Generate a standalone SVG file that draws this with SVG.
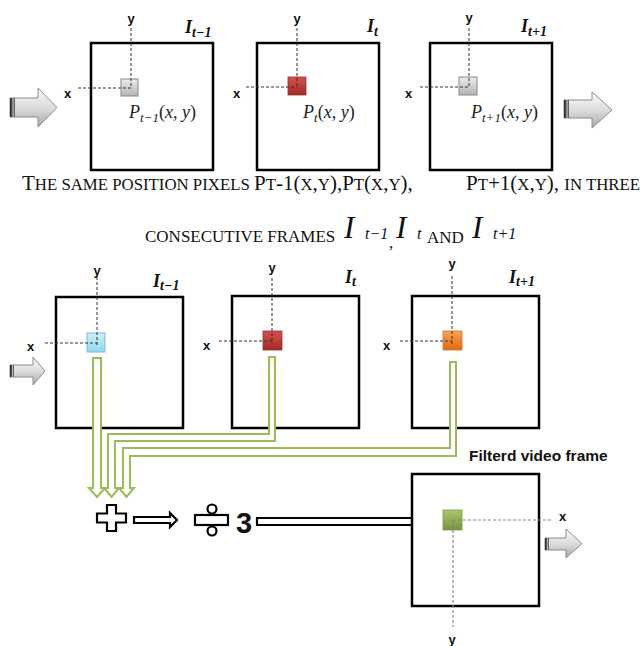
<svg xmlns="http://www.w3.org/2000/svg" width="643" height="646" viewBox="0 0 643 646">
  <defs>
    <linearGradient id="gArrow" x1="0" y1="0" x2="0" y2="1">
      <stop offset="0" stop-color="#fbfbfb"/>
      <stop offset="0.55" stop-color="#d9d9d9"/>
      <stop offset="1" stop-color="#a6a6a6"/>
    </linearGradient>
    <linearGradient id="gTail" x1="0" y1="0" x2="1" y2="0">
      <stop offset="0" stop-color="#222"/>
      <stop offset="0.4" stop-color="#555"/>
      <stop offset="0.6" stop-color="#bbb"/>
      <stop offset="1" stop-color="#444"/>
    </linearGradient>
    <linearGradient id="gGray" x1="0" y1="0" x2="0" y2="1">
      <stop offset="0" stop-color="#ececec"/>
      <stop offset="1" stop-color="#b4b4b4"/>
    </linearGradient>
    <linearGradient id="gRed" x1="0" y1="0" x2="0" y2="1">
      <stop offset="0" stop-color="#d6524e"/>
      <stop offset="1" stop-color="#a32a27"/>
    </linearGradient>
    <linearGradient id="gBlue" x1="0" y1="0" x2="0" y2="1">
      <stop offset="0" stop-color="#cdf0fb"/>
      <stop offset="1" stop-color="#93d6f1"/>
    </linearGradient>
    <linearGradient id="gOrange" x1="0" y1="0" x2="0" y2="1">
      <stop offset="0" stop-color="#f8a458"/>
      <stop offset="1" stop-color="#e0690c"/>
    </linearGradient>
    <linearGradient id="gGreen" x1="0" y1="0" x2="0" y2="1">
      <stop offset="0" stop-color="#a9c96b"/>
      <stop offset="1" stop-color="#76933b"/>
    </linearGradient>
  </defs>
  <style>
    .frame { fill: #fff; stroke: #000; stroke-width: 2.5; }
    .dash { fill: none; stroke: #333; stroke-width: 1; stroke-dasharray: 3 2; }
    .dashg { fill: none; stroke: #888; stroke-width: 1.2; stroke-dasharray: 3 2; }
    .axis { font-family: "Liberation Sans", Arial, sans-serif; font-weight: bold; font-size: 13px; fill: #111; }
    .flabel { font-family: "Liberation Serif", "Times New Roman", serif; font-weight: bold; font-style: italic; font-size: 18px; fill: #111; }
    .fsub { font-size: 14px; }
    .plabel { font-family: "Liberation Serif", "Times New Roman", serif; font-style: italic; font-size: 18px; fill: #222; }
    .psub { font-size: 13px; }
    .up { font-style: normal; }
    .cap { font-family: "Liberation Serif", "Times New Roman", serif; font-size: 21px; fill: #111; }
    .sc { font-size: 16.8px; }
    .sc2 { font-size: 17px; }
    .mi { font-family: "Liberation Serif", "Times New Roman", serif; font-style: italic; font-size: 31px; fill: #111; }
    .ms { font-family: "Liberation Serif", "Times New Roman", serif; font-style: italic; font-size: 16px; fill: #111; }
    .pipe { fill: #fff; stroke: #9bbb59; stroke-width: 2; stroke-linejoin: miter; }
    .op { fill: #fff; stroke: #000; stroke-width: 2.2; stroke-linejoin: miter; }
    .garrow { fill: url(#gArrow); stroke: #8c8c8c; stroke-width: 1; }
    .title { font-family: "Liberation Sans", Arial, sans-serif; font-weight: bold; font-size: 15.5px; fill: #111; }
  </style>

  <!-- top row: three consecutive frames -->
  <g id="top-input-arrow">
    <path class="garrow" d="M10,98 H38 V88 L57,107.5 L38,127 V117 H10 Z"/>
    <rect x="10" y="98" width="5" height="19" fill="url(#gTail)"/>
  </g>
  <g id="top-frame-prev">
    <rect class="frame" x="91" y="43" width="122" height="127"/>
    <rect x="121" y="79" width="17" height="17" fill="url(#gGray)" stroke="#8a8a8a" stroke-width="1"/>
    <path class="dash" d="M131,28 V88 M78,88 H131"/>
    <text class="axis" x="131" y="23" text-anchor="middle">y</text>
    <text class="axis" x="64" y="98">x</text>
    <text class="flabel" x="185" y="33">I<tspan class="fsub" dy="4">t−1</tspan></text>
    <text class="plabel" x="129" y="118">P<tspan class="psub" dy="4">t−1</tspan><tspan class="up" dy="-4">(</tspan>x<tspan class="up">, </tspan>y<tspan class="up">)</tspan></text>
  </g>
  <g id="top-frame-cur">
    <rect class="frame" x="257" y="43" width="122" height="127"/>
    <rect x="288" y="77" width="18" height="18" fill="url(#gRed)" stroke="#9a3030" stroke-width="0.8"/>
    <path class="dash" d="M297,28 V87 M246,87 H297"/>
    <text class="axis" x="297" y="23" text-anchor="middle">y</text>
    <text class="axis" x="233" y="98">x</text>
    <text class="flabel" x="367" y="32">I<tspan class="fsub" dy="4">t</tspan></text>
    <text class="plabel" x="303" y="118">P<tspan class="psub" dy="4">t</tspan><tspan class="up" dy="-4">(</tspan>x<tspan class="up">, </tspan>y<tspan class="up">)</tspan></text>
  </g>
  <g id="top-frame-next">
    <rect class="frame" x="430" y="43" width="122" height="127"/>
    <rect x="459" y="77" width="18" height="18" fill="url(#gGray)" stroke="#8a8a8a" stroke-width="1"/>
    <path class="dash" d="M469,28 V87 M420,87 H469"/>
    <text class="axis" x="469" y="22" text-anchor="middle">y</text>
    <text class="axis" x="405" y="98">x</text>
    <text class="flabel" x="521" y="32">I<tspan class="fsub" dy="4">t+1</tspan></text>
    <text class="plabel" x="471" y="118">P<tspan class="psub" dy="4">t+1</tspan><tspan class="up" dy="-4">(</tspan>x<tspan class="up">, </tspan>y<tspan class="up">)</tspan></text>
  </g>
  <g id="top-output-arrow">
    <path class="garrow" d="M564,100 H592 V92 L612,110 L592,128 V118 H564 Z"/>
    <rect x="564" y="100" width="5" height="18" fill="url(#gTail)"/>
  </g>

  <!-- caption -->
  <g id="caption">
    <text class="cap" x="22" y="190">T<tspan class="sc">HE SAME POSITION PIXELS </tspan>P<tspan class="sc">T</tspan>-1(<tspan class="sc">X</tspan>,<tspan class="sc">Y</tspan>),P<tspan class="sc">T</tspan>(<tspan class="sc">X</tspan>,<tspan class="sc">Y</tspan>),</text>
    <text class="cap" x="466" y="190">P<tspan class="sc">T</tspan>+1(<tspan class="sc">X</tspan>,<tspan class="sc">Y</tspan>), <tspan class="sc">IN THREE</tspan></text>
    <text class="cap" x="145" y="242"><tspan class="sc2">CONSECUTIVE FRAMES</tspan></text>
    <text class="mi" x="344" y="238">I</text>
    <text class="ms" x="365" y="239">t−1</text>
    <text class="cap" x="389" y="248" style="font-size:17px">,</text>
    <text class="mi" x="396" y="238">I</text>
    <text class="ms" x="417" y="239">t</text>
    <text class="cap" x="427" y="243"><tspan class="sc2">AND</tspan></text>
    <text class="mi" x="472" y="238">I</text>
    <text class="ms" x="493" y="239">t+1</text>
  </g>

  <!-- middle row: the same pixel in each frame -->
  <g id="mid-input-arrow">
    <path class="garrow" d="M10,365 H33 V357 L45,371 L33,385 V377 H10 Z"/>
    <rect x="10" y="365" width="4" height="12" fill="url(#gTail)"/>
  </g>
  <g id="mid-frame-prev">
    <rect class="frame" x="56" y="297" width="127" height="131"/>
    <rect x="87" y="333" width="18" height="19" fill="url(#gBlue)" stroke="#84bcd6" stroke-width="1"/>
    <path class="dash" d="M97,277 V347 M45,343 H97"/>
    <text class="axis" x="97" y="275" text-anchor="middle">y</text>
    <text class="axis" x="27" y="351">x</text>
    <text class="flabel" x="153" y="287">I<tspan class="fsub" dy="3">t−1</tspan></text>
  </g>
  <g id="mid-frame-cur">
    <rect class="frame" x="232" y="296" width="127" height="132"/>
    <rect x="263" y="331" width="19" height="19" fill="url(#gRed)" stroke="#9a3030" stroke-width="0.8"/>
    <path class="dash" d="M272,278 V345 M219,341 H272"/>
    <text class="axis" x="272" y="272" text-anchor="middle">y</text>
    <text class="axis" x="203" y="350">x</text>
    <text class="flabel" x="345" y="283">I<tspan class="fsub" dy="3">t</tspan></text>
  </g>
  <g id="mid-frame-next">
    <rect class="frame" x="412" y="296" width="127" height="132"/>
    <rect x="443" y="331" width="19" height="19" fill="url(#gOrange)" stroke="#d07a2a" stroke-width="0.8"/>
    <path class="dash" d="M452,276 V345 M400,341 H452"/>
    <text class="axis" x="452" y="268" text-anchor="middle">y</text>
    <text class="axis" x="383" y="350">x</text>
    <text class="flabel" x="509" y="283">I<tspan class="fsub" dy="3">t+1</tspan></text>
  </g>

  <!-- pixel values fed into the sum -->
  <g id="connectors">
    <path class="pipe" d="M93,358 H101 V488 H105 L97,497 L89,488 H93 Z"/>
    <path class="pipe" d="M269,357 H275 V441 H115 V488 H119 L111.5,497 L104,488 H108 V434 H269 Z"/>
    <path class="pipe" d="M450,362 H456 V456 H130 V488 H134 L126.5,497 L119,488 H123 V448 H450 Z"/>
    <path class="op" d="M134,517 H170 V513 L177,520 L170,527 V523 H134 Z"/>
    <path class="op" d="M257,518 H418 V513 L427,521.5 L418,530 V525 H257 Z"/>
  </g>

  <g id="sum">
    <path class="op" d="M107,505 H116 V513.5 H126 V522.5 H116 V531 H107 V522.5 H97 V513.5 H107 Z"/>
  </g>
  <g id="divide">
    <circle class="op" cx="212" cy="509" r="4.5"/>
    <rect class="op" x="195" y="515" width="33" height="10"/>
    <circle class="op" cx="212" cy="531" r="4.5"/>
    <text x="236" y="533" style="font-family:'Liberation Sans',Arial,sans-serif;font-weight:bold;font-size:29px;fill:#111">3</text>
  </g>

  <!-- filtered output frame -->
  <g id="filtered-frame">
    <text class="title" x="469" y="461">Filterd video frame</text>
    <rect class="frame" x="412" y="474" width="127" height="132"/>
    <rect x="443" y="510" width="19" height="20" fill="url(#gGreen)" stroke="#7a9940" stroke-width="0.8"/>
    <path class="dashg" d="M453,520 H552 M453,520 V627"/>
    <text class="axis" x="559" y="521">x</text>
    <text class="axis" x="452" y="644" text-anchor="middle">y</text>
  </g>
  <g id="output-arrow">
    <path class="garrow" d="M545,538 H566 V529 L582,543.5 L566,558 V550 H545 Z"/>
    <rect x="545" y="538" width="4" height="12" fill="url(#gTail)"/>
  </g>
</svg>
